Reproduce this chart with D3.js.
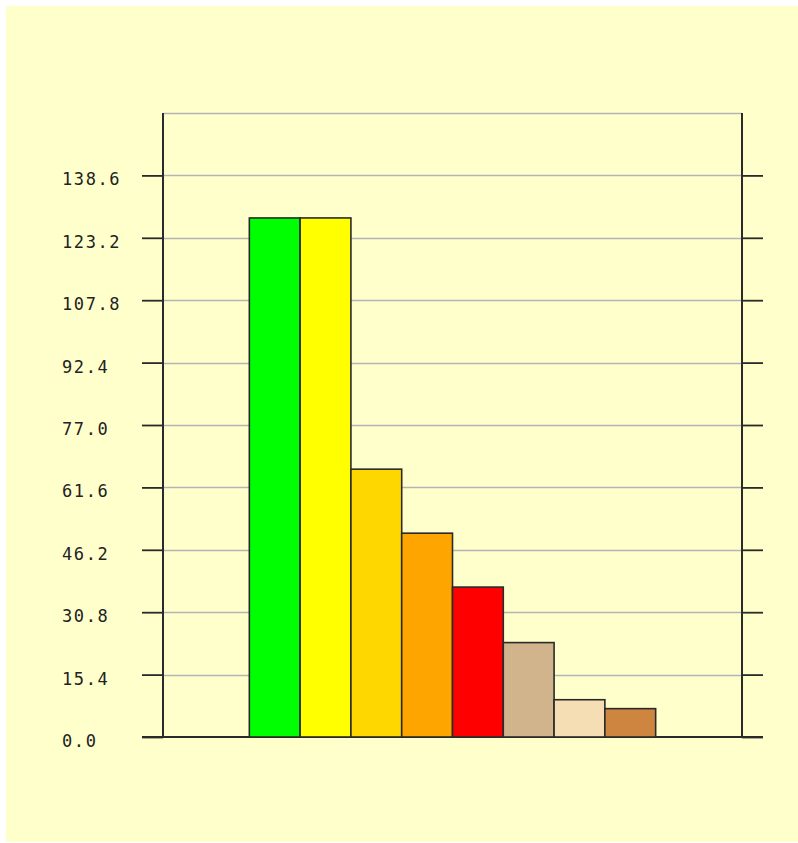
<!DOCTYPE html>
<html>
<head>
<meta charset="utf-8">
<script src="https://cdn.jsdelivr.net/npm/d3@7"></script>
<style>
	body { margin: 0; background: #ffffff; }
	svg { display: block; }
</style>
</head>
<body>
<script>
	// chart data
	const categories = ["A", "B", "C", "D", "E", "F", "G", "H"];
	const values = [128.1, 128.1, 66.1, 50.3, 37.0, 23.3, 9.2, 7.0];
	const barColors = ["#00ff00", "#ffff00", "#ffd700", "#ffa500", "#ff0000", "#d2b48c", "#f5deb3", "#cd853f"];
	const tickValues = [0, 15.4, 30.8, 46.2, 61.6, 77.0, 92.4, 107.8, 123.2, 138.6];
	const yMax = 154;

	const width = 798, height = 843;
	const plot = { left: 163, right: 742, top: 113, bottom: 737 };
	const tickLen = 21;

	const svg = d3.select("body").append("svg")
		.attr("width", width)
		.attr("height", height);

	// pale yellow panel
	svg.append("rect")
		.attr("x", 6)
		.attr("y", 6)
		.attr("width", width - 6)
		.attr("height", height - 7)
		.attr("fill", "#ffffcc");

	const y = d3.scaleLinear().domain([0, yMax]).range([plot.bottom, plot.top]);
	const x = d3.scaleBand()
		.domain(categories)
		.range([plot.left, plot.right])
		.paddingInner(0)
		.paddingOuter(1.7);

	// grid lines (including the top border)
	svg.append("g")
		.selectAll("line")
		.data(tickValues.slice(1).concat([yMax]))
		.join("line")
		.attr("x1", plot.left)
		.attr("x2", plot.right)
		.attr("y1", d => Math.round(y(d)) + 0.5)
		.attr("y2", d => Math.round(y(d)) + 0.5)
		.attr("stroke", "#b4b4b4")
		.attr("stroke-width", 1.5);

	// baseline across the full width, ticks included
	svg.append("line")
		.attr("x1", plot.left - tickLen)
		.attr("x2", plot.right + tickLen)
		.attr("y1", y(0))
		.attr("y2", y(0))
		.attr("stroke", "#2a2a2a")
		.attr("stroke-width", 1.8);

	// bars
	svg.append("g")
		.selectAll("rect")
		.data(values)
		.join("rect")
		.attr("x", (d, i) => x(categories[i]))
		.attr("y", d => y(d))
		.attr("width", x.bandwidth())
		.attr("height", d => y(0) - y(d))
		.attr("fill", (d, i) => barColors[i])
		.attr("stroke", "#2a2a2a")
		.attr("stroke-width", 1.6);

	// left and right axes
	const axisLeft = d3.axisLeft(y)
		.tickValues(tickValues)
		.tickSize(tickLen)
		.tickFormat("");
	const axisRight = d3.axisRight(y)
		.tickValues(tickValues)
		.tickSize(tickLen)
		.tickFormat("");

	[
		svg.append("g").attr("transform", `translate(${plot.left},0)`).call(axisLeft),
		svg.append("g").attr("transform", `translate(${plot.right},0)`).call(axisRight)
	].forEach(g => {
		g.select(".domain").remove();
		g.selectAll("line").attr("stroke", "#2a2a2a").attr("stroke-width", 1.8);
	});

	// vertical axis lines
	[plot.left, plot.right].forEach(px => {
		svg.append("line")
			.attr("x1", px).attr("x2", px)
			.attr("y1", y(yMax)).attr("y2", y(0))
			.attr("stroke", "#2a2a2a")
			.attr("stroke-width", 2);
	});

	// tick labels, left aligned
	svg.append("g")
		.selectAll("text")
		.data(tickValues)
		.join("text")
		.attr("x", 62)
		.attr("y", d => y(d) + 10)
		.attr("font-family", "DejaVu Sans Mono, monospace")
		.attr("font-size", 17)
		.attr("letter-spacing", 1.6)
		.attr("fill", "#222")
		.text(d => d.toFixed(1));
</script>
</body>
</html>
